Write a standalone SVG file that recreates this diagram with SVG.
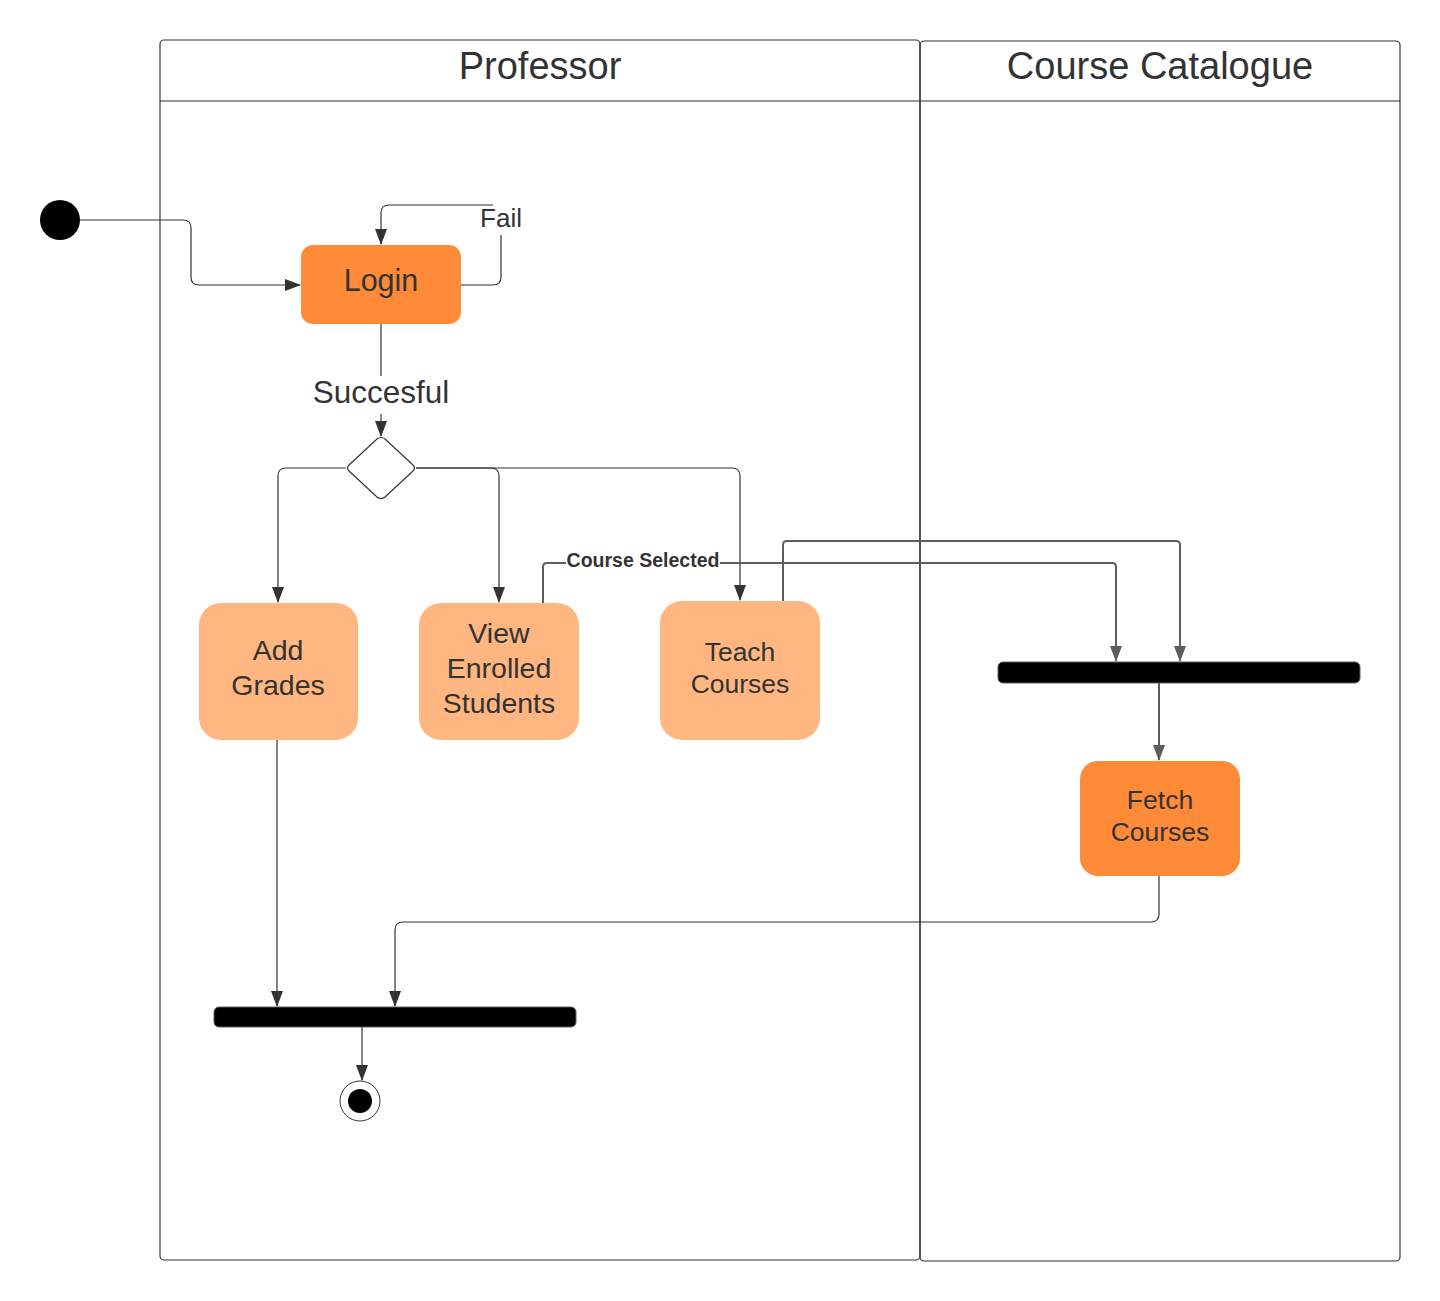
<svg xmlns="http://www.w3.org/2000/svg" width="1440" height="1301" viewBox="0 0 1440 1301">
<defs>
<style>
text{font-family:"Liberation Sans",Arial,sans-serif;fill:#333;text-anchor:middle}
.lane{fill:none;stroke:#333;stroke-width:1.2}
.c{fill:none;stroke:#333;stroke-width:1.2}
.c2{fill:none;stroke:#5e5e5e;stroke-width:2}
.dark{fill:#FF8A38}
.light{fill:#FFB680}
.bar{fill:#000;stroke:#5e5e5e;stroke-width:1}
</style>
<marker id="a" markerWidth="16" markerHeight="12" refX="15" refY="6" orient="auto" markerUnits="userSpaceOnUse" viewBox="0 0 16 12">
<path d="M0,0 L16,6 L0,12 Z" fill="#333"/>
</marker>
<marker id="a2" markerWidth="16" markerHeight="12" refX="15" refY="6" orient="auto" markerUnits="userSpaceOnUse" viewBox="0 0 16 12">
<path d="M0,0 L16,6 L0,12 Z" fill="#5e5e5e"/>
</marker>
</defs>
<g id="lane-professor">
<rect class="lane" x="160" y="40" width="760" height="1220" rx="4"/>
<line class="lane" x1="160" y1="101" x2="920" y2="101"/>
<text x="540" y="79" font-size="38">Professor</text>
</g>
<g id="lane-catalogue">
<rect class="lane" x="920" y="41" width="480" height="1220" rx="4"/>
<line class="lane" x1="920" y1="101" x2="1400" y2="101"/>
<text x="1160" y="79" font-size="38">Course Catalogue</text>
</g>
<g id="connectors">
<path class="c" d="M80,220 H183 Q191,220 191,228 V277 Q191,285 199,285 H300" marker-end="url(#a)"/>
<path class="c" d="M461,285 H493 Q501,285 501,277 V235"/>
<path class="c" d="M493,205 H389 Q381,205 381,213 V244" marker-end="url(#a)"/>
<path class="c" d="M381,324 V376"/>
<path class="c" d="M381,414 V436" marker-end="url(#a)"/>
<path class="c" d="M346,468 H286 Q278,468 278,476 V602" marker-end="url(#a)"/>
<path class="c" d="M416,468 H491 Q499,468 499,476 V602" marker-end="url(#a)"/>
<path class="c" d="M416,468 H732 Q740,468 740,476 V600" marker-end="url(#a)"/>
<path class="c2" d="M543,603 V567 Q543,563 547,563 H566"/>
<path class="c2" d="M720,563 H1112 Q1116,563 1116,567 V661" marker-end="url(#a2)"/>
<path class="c2" d="M783,601 V545 Q783,541 787,541 H1176 Q1180,541 1180,545 V661" marker-end="url(#a2)"/>
<path class="c2" d="M1159,683 V760" marker-end="url(#a2)"/>
<path class="c" d="M1159,876 V914 Q1159,922 1151,922 H403 Q395,922 395,930 V1006" marker-end="url(#a)"/>
<path class="c" d="M277,740 V1006" marker-end="url(#a)"/>
<path class="c" d="M362,1027 V1080" marker-end="url(#a)"/>
<text x="501" y="227" font-size="26">Fail</text>
<text x="381" y="403" font-size="31.5">Succesful</text>
<text x="643" y="567" font-size="19.5" font-weight="bold">Course Selected</text>
</g>
<g id="start"><circle cx="60" cy="220" r="20" fill="#000"/></g>
<g id="login">
<rect class="dark" x="301" y="245" width="160" height="79" rx="12"/>
<text x="381" y="291" font-size="30.5">Login</text>
</g>
<g id="decision">
<path d="M377,439 Q381,436 385,439 L413,465 Q416,468 413,471 L385,497 Q381,500 377,497 L349,471 Q346,468 349,465 Z" fill="#fff" stroke="#333" stroke-width="1.2"/>
</g>
<g id="add-grades">
<rect class="light" x="199" y="603" width="159" height="137" rx="22"/>
<text x="278" y="660" font-size="28.5">Add</text>
<text x="278" y="695" font-size="28.5">Grades</text>
</g>
<g id="view-enrolled">
<rect class="light" x="419" y="603" width="160" height="137" rx="22"/>
<text x="499" y="643" font-size="28.5">View</text>
<text x="499" y="678" font-size="28.5">Enrolled</text>
<text x="499" y="713" font-size="28.5">Students</text>
</g>
<g id="teach-courses">
<rect class="light" x="660" y="601" width="160" height="139" rx="22"/>
<text x="740" y="661" font-size="26.5">Teach</text>
<text x="740" y="693" font-size="26.5">Courses</text>
</g>
<g id="fork"><rect class="bar" x="998" y="662" width="362" height="21" rx="5"/></g>
<g id="fetch-courses">
<rect class="dark" x="1080" y="761" width="160" height="115" rx="18"/>
<text x="1160" y="809" font-size="26.5">Fetch</text>
<text x="1160" y="841" font-size="26.5">Courses</text>
</g>
<g id="join"><rect class="bar" x="214" y="1007" width="362" height="20" rx="5"/></g>
<g id="end">
<circle cx="360" cy="1101" r="20" fill="#fff" stroke="#333" stroke-width="1"/>
<circle cx="360" cy="1101" r="12" fill="#000"/>
</g>
</svg>
